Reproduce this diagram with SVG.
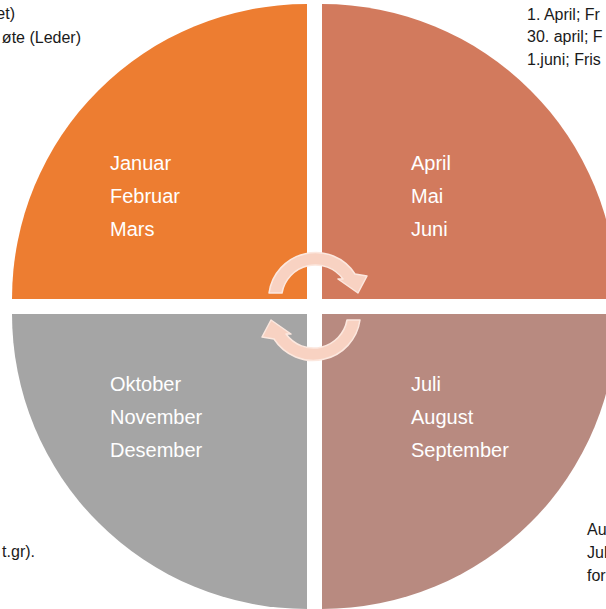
<svg xmlns="http://www.w3.org/2000/svg" width="606" height="609" viewBox="0 0 606 609">
<style>
.m{font-family:"Liberation Sans",Arial,sans-serif;font-size:20px;fill:#ffffff}
.c{font-family:"Liberation Sans",Arial,sans-serif;font-size:16px;fill:#1a1a1a}
.arr{fill:#f8d2c2;stroke:#fce8df;stroke-width:1.5;stroke-linejoin:round}
</style>
<rect width="606" height="609" fill="#ffffff"/>
<g id="q1">
<path d="M307,299 L12,299 A295,295 0 0 1 307,4 Z" fill="#ed7d31"/>
<text class="m" x="110" y="170">Januar</text>
<text class="m" x="110" y="203">Februar</text>
<text class="m" x="110" y="236">Mars</text>
</g>
<g id="q2">
<path d="M322,299 L322,4 A295,295 0 0 1 617,299 Z" fill="#d27a5d"/>
<text class="m" x="411" y="170">April</text>
<text class="m" x="411" y="203">Mai</text>
<text class="m" x="411" y="236">Juni</text>
</g>
<g id="q3">
<path d="M322,314 L617,314 A295,295 0 0 1 322,609 Z" fill="#b88a80"/>
<text class="m" x="411" y="391">Juli</text>
<text class="m" x="411" y="424">August</text>
<text class="m" x="411" y="457">September</text>
</g>
<g id="q4">
<path d="M307,314 L307,609 A295,295 0 0 1 12,314 Z" fill="#a5a5a5"/>
<text class="m" x="110" y="391">Oktober</text>
<text class="m" x="110" y="424">November</text>
<text class="m" x="110" y="457">Desember</text>
</g>
<g id="connectors">
<path id="arrowTop" class="arr" d="M269,293 A47,47 0 0 1 355,274 L367,276 L358,293 L338,279 L343,279 A34,34 0 0 0 282,293 Z"/>
<path id="arrowBottom" class="arr" transform="rotate(180 314.5 306.5)" d="M269,293 A47,47 0 0 1 355,274 L367,276 L358,293 L338,279 L343,279 A34,34 0 0 0 282,293 Z"/>
</g>
<g id="notes">
<text class="c" x="15" y="19" text-anchor="end">et)</text>
<text class="c" x="81" y="43" text-anchor="end">øte (Leder)</text>
<text class="c" x="527" y="20">1. April; Fr</text>
<text class="c" x="527" y="42">30. april; F</text>
<text class="c" x="527" y="65">1.juni; Fris</text>
<text class="c" x="35" y="557" text-anchor="end">t.gr).</text>
<text class="c" x="587" y="535">Au</text>
<text class="c" x="587" y="558">Jul</text>
<text class="c" x="587" y="581">for</text>
</g>
</svg>
